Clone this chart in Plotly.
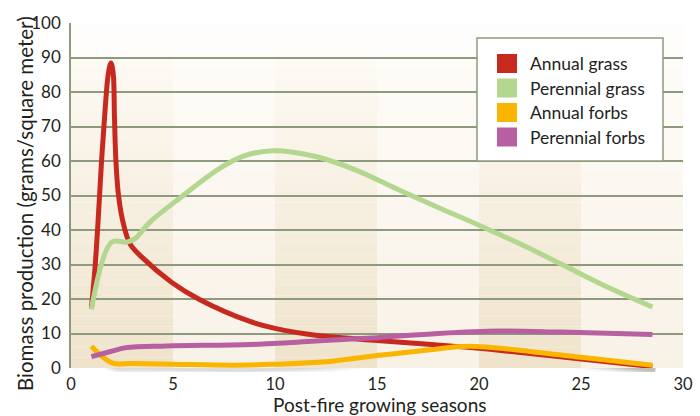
import plotly.graph_objects as go

# ---------------- data ----------------
series_names = ["Annual grass", "Perennial grass", "Annual forbs", "Perennial forbs"]
series_colors = ["#c8291f", "#b3d78f", "#f9b500", "#b75fa1"]

annual_grass_x = [1, 1.18, 1.34, 1.5, 1.67, 1.83, 1.96, 2.07, 2.13, 2.2, 2.32, 2.53, 2.89, 3.46, 4.94, 6.32, 8.77, 10, 12, 15, 17.5, 20, 22.5, 25, 28.5]
annual_grass_y = [17.2, 29.3, 43.8, 60.2, 74.7, 85.3, 88.4, 85.3, 72.8, 60.2, 50.5, 42.8, 36, 32.2, 24.8, 19.8, 13.5, 11.5, 9.5, 8, 6.9, 5.7, 4.2, 2.6, 0.4]

perennial_grass_x = [1, 2, 2.73, 3.14, 3.87, 5.5, 7.14, 8.45, 9.9, 12, 14, 16, 18, 20, 22, 24, 26, 28.5]
perennial_grass_y = [17, 36.5, 36.5, 37.5, 42.3, 50, 57.3, 61.4, 63.0, 61.3, 57.3, 51.8, 46.5, 41.4, 36, 30.2, 24.3, 17.7]

annual_forbs_x = [1, 2, 3, 5, 8, 10, 12.5, 15, 17.5, 19.5, 22.5, 25, 28.5]
annual_forbs_y = [6.3, 1.5, 1.3, 1.1, 0.8, 1.1, 1.8, 3.6, 5.2, 6.3, 4.8, 3.1, 0.8]

perennial_forbs_x = [1, 1.9, 2.7, 4.7, 8.8, 12, 15, 18, 21, 24, 28.5]
perennial_forbs_y = [3.3, 4.7, 5.9, 6.4, 6.8, 7.8, 8.8, 10, 10.7, 10.4, 9.7]

x_ticks = [0, 5, 10, 15, 20, 25, 30]
y_ticks = [0, 10, 20, 30, 40, 50, 60, 70, 80, 90, 100]
x_title = "Post-fire growing seasons"
y_title = "Biomass production (grams/square meter)"

series_x = [annual_grass_x, perennial_grass_x, annual_forbs_x, perennial_forbs_x]
series_y = [annual_grass_y, perennial_grass_y, annual_forbs_y, perennial_forbs_y]

# ---------------- layout constants ----------------
W, H = 700, 416
ML, MR, MT, MB = 71, 10, 23, 40
PW, PH = W - ML - MR, H - MT - MB
PLOT_L, PLOT_R, PLOT_T, PLOT_B = 71, 683, 23, 368   # pixel box of the visible plot
SHX, SHY = 3, 4                                       # drop shadow offset (px)
FONT = "Lato"
TXT = "#231f20"
GRID = "#8e9a7d"

def fx(p):  # pixel x -> paper
    return (p - ML) / PW

def fy(p):  # pixel y -> paper
    return (H - MB - p) / PH

main_dx = [fx(PLOT_L), fx(PLOT_R)]
main_dy = [fy(PLOT_B), fy(PLOT_T)]
shadow_dx = [fx(PLOT_L + SHX), fx(PLOT_R + SHX)]
shadow_dy = [fy(PLOT_B + SHY), fy(PLOT_T + SHY)]

fig = go.Figure()

# drop shadows (on the offset axes x/y, drawn underneath)
for xs, ys in zip(series_x, series_y):
    for w, a in [(13, 0.04), (9, 0.06), (5, 0.08)]:
        fig.add_trace(go.Scatter(
            x=xs, y=ys, mode="lines", xaxis="x", yaxis="y",
            line=dict(color="rgba(60,50,40,%s)" % a, width=w, shape="spline", smoothing=1.0),
            showlegend=False, hoverinfo="skip",
        ))

# the series
for name, color, xs, ys in zip(series_names, series_colors, series_x, series_y):
    fig.add_trace(go.Scatter(
        x=xs, y=ys, mode="lines", name=name, xaxis="x2", yaxis="y2",
        line=dict(color=color, width=5, shape="spline", smoothing=1.0),
        showlegend=False, hoverinfo="skip",
    ))

# ---------------- background bands with vertical gradient ----------------
def lerp(c0, c1, t):
    return "rgb(%d,%d,%d)" % tuple(round(a + (b - a) * t) for a, b in zip(c0, c1))

dark_bottom, dark_top = (239, 227, 203), (253, 250, 244)
light_bottom, light_top = (248, 241, 230), (254, 252, 248)
shapes = []
N = 30
grad_top = 90
for i in range(6):
    x0, x1 = 5 * i, 5 * i + 5
    cb, ct = (dark_bottom, dark_top) if i % 2 == 0 else (light_bottom, light_top)
    for k in range(N):
        y0 = grad_top * k / N
        y1 = grad_top * (k + 1) / N
        t = (k + 0.5) / N
        shapes.append(dict(type="rect", xref="x2", yref="y2", x0=x0, x1=x1, y0=y0, y1=y1,
                           fillcolor=lerp(cb, ct, t), line=dict(width=0), layer="below"))
    shapes.append(dict(type="rect", xref="x2", yref="y2", x0=x0, x1=x1, y0=grad_top, y1=100,
                       fillcolor="rgb(254,253,251)", line=dict(width=0), layer="below"))

# ---------------- legend (drawn box) ----------------
shapes.append(dict(type="rect", xref="paper", yref="paper",
                   x0=fx(477), x1=fx(663), y0=fy(161), y1=fy(38),
                   fillcolor="white", line=dict(color=GRID, width=1.5), layer="above"))
annotations = []
row_y = [63.5, 88, 112.5, 137]
for name, color, ry in zip(series_names, series_colors, row_y):
    shapes.append(dict(type="rect", xref="paper", yref="paper",
                       x0=fx(497), x1=fx(517), y0=fy(ry + 9.5), y1=fy(ry - 9.5),
                       fillcolor=color, line=dict(width=0), layer="above"))
    annotations.append(dict(xref="paper", yref="paper", x=fx(528), y=fy(ry),
                            xanchor="left", yanchor="middle", text=name, showarrow=False,
                            font=dict(family=FONT, size=17.5, color=TXT)))

# axis titles
annotations.append(dict(xref="paper", yref="paper", x=fx(379), y=fy(404),
                        xanchor="center", yanchor="middle", text=x_title, showarrow=False,
                        font=dict(family=FONT, size=19, color=TXT)))
annotations.append(dict(xref="paper", yref="paper", x=fx(25), y=fy(204),
                        xanchor="center", yanchor="middle", text=y_title, showarrow=False,
                        textangle=-90, font=dict(family=FONT, size=20.5, color=TXT)))

fig.update_layout(
    width=W, height=H,
    margin=dict(l=ML, r=MR, t=MT, b=MB, autoexpand=False),
    paper_bgcolor="white", plot_bgcolor="rgba(0,0,0,0)",
    shapes=shapes, annotations=annotations,
    showlegend=False,
    font=dict(family=FONT, size=16, color=TXT),
    xaxis=dict(domain=shadow_dx, anchor="y", range=[0, 30], visible=False, fixedrange=True),
    yaxis=dict(domain=shadow_dy, anchor="x", range=[0, 100], visible=False, fixedrange=True),
    xaxis2=dict(domain=main_dx, anchor="y2", range=[0, 30], tickvals=x_ticks, showgrid=False,
                zeroline=False, showline=False, ticks="outside", ticklen=1,
                tickcolor="rgba(0,0,0,0)", automargin=False,
                tickfont=dict(family=FONT, size=16.5, color=TXT),
                fixedrange=True),
    yaxis2=dict(domain=main_dy, anchor="x2", range=[0, 100], tickvals=y_ticks, showgrid=True,
                gridcolor=GRID, gridwidth=1.5, zeroline=False, showline=True, linecolor=GRID,
                linewidth=1.5, ticks="outside", ticklen=5, tickcolor="rgba(0,0,0,0)",
                automargin=False,
                tickfont=dict(family=FONT, size=17, color=TXT),
                fixedrange=True),
)

fig.write_html("out.html", config={"displayModeBar": False},
               post_script="document.body.style.margin='0';")
